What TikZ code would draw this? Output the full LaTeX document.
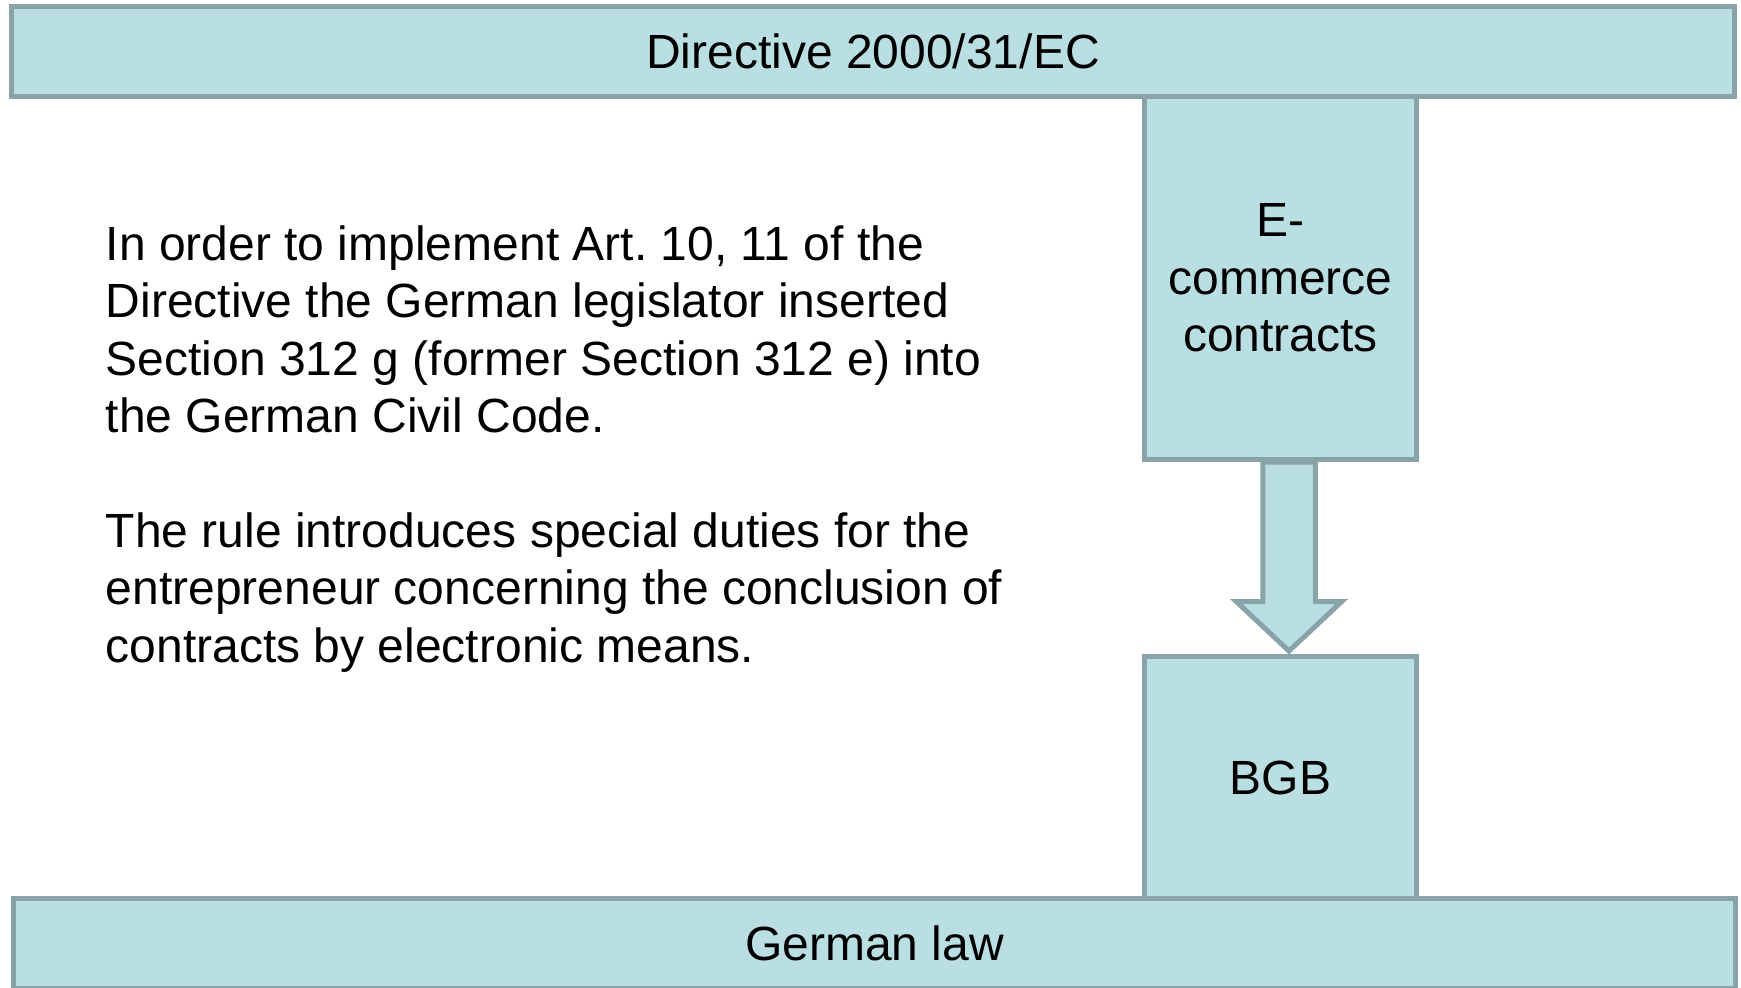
\documentclass[tikz,border=0pt]{standalone}
\usepackage{fontspec}
\setmainfont{Liberation Sans}
\usetikzlibrary{calc}
\definecolor{boxfill}{RGB}{186,223,226}
\definecolor{boxedge}{RGB}{137,164,166}
\begin{document}
\begin{tikzpicture}[x=0.5pt, y=-0.5pt, font=\fontsize{24}{28.7}\selectfont]
	\tikzset{box/.style={rectangle, fill=boxfill, draw=boxedge, line width=2.5pt, inner sep=0pt, align=center},
		blockarrow/.style={fill=boxfill, draw=boxedge, line width=2.5pt}}
	\useasboundingbox (0,0) rectangle (1741,987);
	\clip (0,0) rectangle (1741,987);
	\node[box, minimum width=861.5pt, minimum height=45pt] (directive) at (873,51.5) {Directive 2000/31/EC};
	\node[box, minimum width=136pt, minimum height=181.5pt] (ecom) at (1280.5,278) {E-\\commerce\\contracts};
	\node[box, minimum width=136pt, minimum height=121pt] (bgb) at (1280.5,777.5) {BGB};
	\node[box, minimum width=861pt, minimum height=45pt] (law) at (874.5,943.5) {German law};
	% block arrow from ecom to bgb
	\coordinate (tip) at ($(bgb.north)+(8.5,-3)$);
	\coordinate (shl) at ($(tip)+(-26.25,-49.5)$);
	\coordinate (shr) at ($(tip)+(26.25,-49.5)$);
	\draw[blockarrow] (tip) -- ($(shl)+(-26.5,0)$) -- (shl) -- (shl |- ecom.south)
		-- (shr |- ecom.south) -- (shr) -- ($(shr)+(26.5,0)$) -- cycle;
	\node[anchor=base west, inner sep=0pt, align=left] (rule) at (105.5,662)
		{In order to implement Art.\ 10, 11 of the\\
		Directive the German legislator inserted\\
		Section 312 g (former Section 312 e) into\\
		the German Civil Code.\\[28.7pt]
		The rule introduces special duties for the\\
		entrepreneur concerning the conclusion of\\
		contracts by electronic means.};
\end{tikzpicture}
\end{document}
